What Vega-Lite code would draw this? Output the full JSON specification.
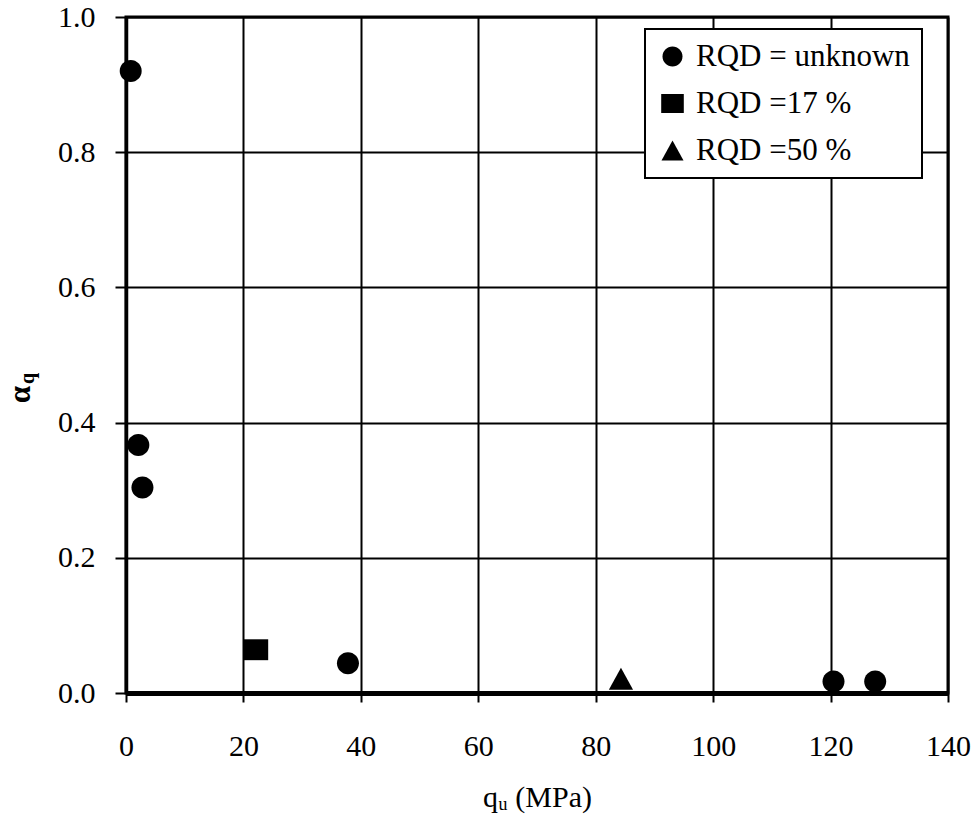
{
  "$schema": "https://vega.github.io/schema/vega-lite/v6.json",
  "width": 822,
  "height": 676,
  "autosize": "none",
  "padding": {"left": 126, "top": 17, "right": 26, "bottom": 124},
  "background": "white",
  "config": {
    "font": "Times New Roman, Liberation Serif, serif",
    "view": {"stroke": "black", "strokeWidth": 3},
    "legend": {"strokeColor": "black", "strokeWidth": 2, "fillColor": "white"},
    "axis": {
      "labelFont": "Times New Roman, Liberation Serif, serif",
      "labelFontSize": 30,
      "labelColor": "black",
      "titleFont": "Times New Roman, Liberation Serif, serif",
      "titleColor": "black",
      "domainColor": "black",
      "tickColor": "black",
      "gridColor": "black",
      "gridOpacity": 1,
      "gridWidth": 2
    }
  },
  "data": {
    "values": [
      {"qu": 0.8, "alpha": 0.92, "rqd": "RQD = unknown"},
      {"qu": 2.1, "alpha": 0.367, "rqd": "RQD = unknown"},
      {"qu": 2.8, "alpha": 0.304, "rqd": "RQD = unknown"},
      {"qu": 37.8, "alpha": 0.044, "rqd": "RQD = unknown"},
      {"qu": 120.5, "alpha": 0.017, "rqd": "RQD = unknown"},
      {"qu": 127.6, "alpha": 0.017, "rqd": "RQD = unknown"},
      {"qu": 22.1, "alpha": 0.064, "rqd": "RQD =17 %"},
      {"qu": 84.3, "alpha": 0.021, "rqd": "RQD =50 %"}
    ]
  },
  "layer": [
    {
      "mark": {"type": "point", "filled": true, "color": "black", "opacity": 1, "size": 484},
      "encoding": {
        "x": {
          "field": "qu",
          "type": "quantitative",
          "scale": {"domain": [0, 140], "nice": false, "zero": true},
          "axis": {
            "values": [0, 20, 40, 60, 80, 100, 120, 140],
            "title": "qᵤ (MPa)",
            "titleFontSize": 30,
            "titleFontWeight": "normal",
            "titlePadding": 21,
            "domainWidth": 5,
            "tickSize": 9,
            "tickWidth": 2,
            "labelPadding": 29,
            "labelFlush": false
          }
        },
        "y": {
          "field": "alpha",
          "type": "quantitative",
          "scale": {"domain": [0, 1], "nice": false},
          "axis": {
            "values": [0, 0.2, 0.4, 0.6, 0.8, 1.0],
            "format": ".1f",
            "title": "α",
            "titleFontSize": 31,
            "titleFontWeight": "bold",
            "titleAngle": -90,
            "titleAlign": "center",
            "titleBaseline": "alphabetic",
            "titleX": -97,
            "titleY": 377,
            "domainWidth": 3.5,
            "tickSize": 11,
            "tickWidth": 2,
            "labelPadding": 20,
            "labelFlush": false
          }
        },
        "shape": {
          "field": "rqd",
          "type": "nominal",
          "scale": {
            "domain": ["RQD = unknown", "RQD =17 %", "RQD =50 %"],
            "range": [
              "M-1,0A1,1 0 1,0 1,0A1,1 0 1,0 -1,0Z",
              "M-1.13,-0.95H1.13V0.95H-1.13Z",
              "M0,-1L1.1,1L-1.1,1Z"
            ]
          },
          "legend": {
            "title": null,
            "orient": "none",
            "legendX": 519,
            "legendY": 12,
            "padding": 12,
            "symbolSize": 400,
            "symbolFillColor": "black",
            "symbolStrokeColor": "black",
            "symbolStrokeWidth": 0,
            "symbolOpacity": 1,
            "labelFont": "Times New Roman, Liberation Serif, serif",
            "labelFontSize": 31,
            "labelColor": "black",
            "labelOffset": 8,
            "labelLimit": 400,
            "labelExpr": "datum.label + '\u00a0\u00a0'",
            "rowPadding": 15
          }
        }
      }
    },
    {
      "mark": {"type": "point", "opacity": 0},
      "encoding": {
        "x": {"field": "qu", "type": "quantitative"},
        "y": {
          "field": "alpha",
          "type": "quantitative",
          "axis": {
            "orient": "right",
            "title": "q",
            "titleFont": "Times New Roman, Liberation Serif, serif",
            "titleFontSize": 20,
            "titleFontWeight": "bold",
            "titleAngle": -90,
            "titleAlign": "center",
            "titleBaseline": "alphabetic",
            "titleX": -915,
            "titleY": 361,
            "labels": false,
            "ticks": false,
            "domain": false,
            "grid": false
          }
        }
      }
    }
  ],
  "resolve": {"axis": {"y": "independent"}}
}
